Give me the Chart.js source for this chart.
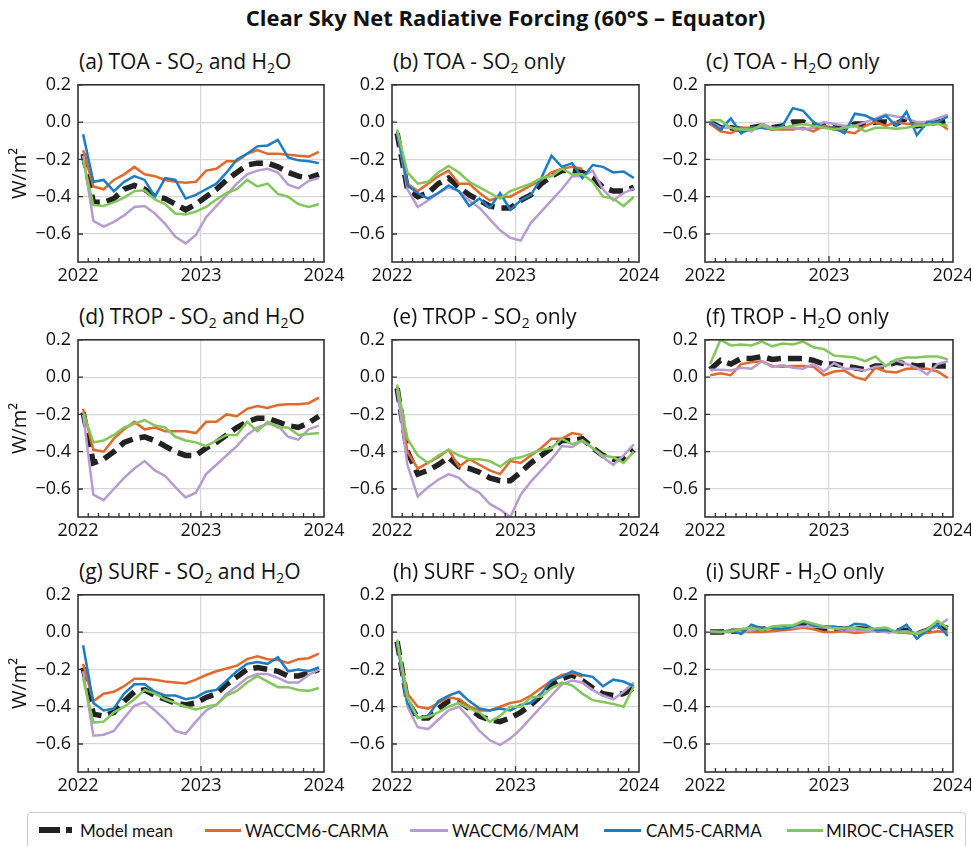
<!DOCTYPE html>
<html>
<head>
<meta charset="utf-8">
<script src="https://cdn.jsdelivr.net/npm/chart.js@4.4.1/dist/chart.umd.min.js"></script>
<style>
  body { margin: 0; width: 971px; height: 846px; background: #fff; position: relative; overflow: hidden; font-family: "Open Sans", Lato, sans-serif; color: #111; }
  #title { position: absolute; left: 20px; top: 2px; width: 971px; text-align: center; font-weight: bold; font-size: 22px; }
  .ptitle { position: absolute; font-size: 21px; white-space: nowrap; line-height: 21px; }
  .ptitle sub { font-size: 14px; vertical-align: -4px; line-height: 0; }
  canvas { position: absolute; }
  #legend { position: absolute; left: 27px; top: 812px; width: 937px; height: 36px; border: 1px solid #ccc; border-radius: 4px; font-family: Lato, sans-serif; font-size: 17px; }
  .lg { position: absolute; top: 7px; white-space: nowrap; }
  .sw { position: absolute; top: 16px; height: 3px; }
</style>
</head>
<body>
<div id="title">Clear Sky Net Radiative Forcing (60°S – Equator)</div>
<div id="legend">
  <div class="sw" style="left:11px;width:21px;height:6px;top:14px;background:#222"></div>
  <div class="sw" style="left:38px;width:6px;height:6px;top:14px;background:#222"></div>
  <div class="lg" style="left:52px">Model mean</div>
  <div class="sw" style="left:177px;width:36px;background:#E2692A"></div>
  <div class="lg" style="left:217px">WACCM6-CARMA</div>
  <div class="sw" style="left:382px;width:38px;background:#B89BD0"></div>
  <div class="lg" style="left:424px">WACCM6/MAM</div>
  <div class="sw" style="left:576px;width:37px;background:#1C7DC1"></div>
  <div class="lg" style="left:618px">CAM5-CARMA</div>
  <div class="sw" style="left:759px;width:36px;background:#82C75A"></div>
  <div class="lg" style="left:798px">MIROC-CHASER</div>
</div>
<script>
// monthly means, mid-month positions (months since Jan 2022)
const monthX = [0.5, 1.5, 2.5, 3.5, 4.5, 5.5, 6.5, 7.5, 8.5, 9.5, 10.5, 11.5,
                12.5, 13.5, 14.5, 15.5, 16.5, 17.5, 18.5, 19.5, 20.5, 21.5, 22.5, 23.5];
const xTickPos = [0, 12, 24];
const xTickLabels = ['2022', '2023', '2024'];
const yTicks = [-0.6, -0.4, -0.2, 0.0, 0.2];

const models = ['Model mean', 'WACCM6-CARMA', 'WACCM6/MAM', 'CAM5-CARMA', 'MIROC-CHASER'];
const colors = ['#222222', '#E2692A', '#B89BD0', '#1C7DC1', '#82C75A'];

const panelTitles = [
  '(a) TOA - SO<sub>2</sub> and H<sub>2</sub>O', '(b) TOA - SO<sub>2</sub> only', '(c) TOA - H<sub>2</sub>O only',
  '(d) TROP - SO<sub>2</sub> and H<sub>2</sub>O', '(e) TROP - SO<sub>2</sub> only', '(f) TROP - H<sub>2</sub>O only',
  '(g) SURF - SO<sub>2</sub> and H<sub>2</sub>O', '(h) SURF - SO<sub>2</sub> only', '(i) SURF - H<sub>2</sub>O only'
];

// (a) TOA - SO2 and H2O
const aMean  = [-0.17,-0.43,-0.43,-0.41,-0.36,-0.34,-0.36,-0.40,-0.41,-0.44,-0.47,-0.44,-0.40,-0.36,-0.31,-0.27,-0.23,-0.22,-0.22,-0.24,-0.27,-0.29,-0.30,-0.28];
const aCarma = [-0.15,-0.345,-0.36,-0.31,-0.28,-0.24,-0.28,-0.29,-0.31,-0.32,-0.325,-0.32,-0.26,-0.25,-0.21,-0.21,-0.17,-0.15,-0.17,-0.17,-0.175,-0.18,-0.185,-0.16];
const aMam   = [-0.18,-0.53,-0.56,-0.535,-0.50,-0.455,-0.45,-0.49,-0.545,-0.615,-0.65,-0.605,-0.51,-0.45,-0.39,-0.33,-0.28,-0.26,-0.25,-0.27,-0.335,-0.355,-0.315,-0.30];
const aCam5  = [-0.065,-0.32,-0.31,-0.37,-0.32,-0.29,-0.31,-0.40,-0.30,-0.31,-0.41,-0.39,-0.36,-0.33,-0.27,-0.20,-0.17,-0.13,-0.125,-0.095,-0.19,-0.205,-0.21,-0.22];
const aMiroc = [-0.205,-0.445,-0.45,-0.43,-0.405,-0.37,-0.365,-0.415,-0.44,-0.49,-0.495,-0.48,-0.455,-0.415,-0.38,-0.36,-0.31,-0.345,-0.33,-0.385,-0.40,-0.44,-0.455,-0.44];

// (b) TOA - SO2 only
const bMean  = [-0.06,-0.36,-0.40,-0.38,-0.33,-0.30,-0.35,-0.39,-0.42,-0.45,-0.46,-0.46,-0.42,-0.39,-0.33,-0.29,-0.26,-0.26,-0.27,-0.30,-0.35,-0.37,-0.37,-0.35];
const bCarma = [-0.05,-0.33,-0.37,-0.33,-0.29,-0.26,-0.33,-0.33,-0.38,-0.42,-0.40,-0.40,-0.37,-0.34,-0.31,-0.27,-0.25,-0.24,-0.25,null,null,null,null,null];
const bMam   = [-0.05,-0.36,-0.455,-0.42,-0.38,-0.35,-0.37,-0.42,-0.46,-0.52,-0.58,-0.62,-0.635,-0.54,-0.48,-0.42,-0.36,-0.29,-0.29,-0.26,-0.36,-0.42,-0.38,-0.355];
const bCam5  = [-0.05,-0.34,-0.38,-0.41,-0.38,-0.34,-0.37,-0.45,-0.41,-0.46,-0.38,-0.47,-0.42,-0.39,-0.30,-0.18,-0.24,-0.22,-0.30,-0.23,-0.24,-0.27,-0.265,-0.30];
const bMiroc = [-0.04,-0.27,-0.33,-0.32,-0.27,-0.235,-0.27,-0.32,-0.35,-0.38,-0.41,-0.37,-0.35,-0.33,-0.30,-0.29,-0.25,-0.28,-0.28,-0.32,-0.40,-0.41,-0.45,-0.40];

// (c) TOA - H2O only
const cMean  = [0.0,-0.03,-0.03,-0.04,-0.03,-0.02,-0.03,-0.02,0.0,0.0,-0.02,-0.02,-0.03,-0.04,-0.01,-0.01,0.0,0.0,-0.01,0.02,-0.02,-0.01,0.0,0.01];
const cCarma = [-0.01,-0.05,-0.06,-0.03,-0.03,-0.03,-0.04,-0.04,-0.04,-0.03,-0.05,-0.02,-0.03,-0.05,-0.06,-0.02,0.0,-0.02,0.0,-0.01,-0.01,0.0,0.0,-0.04];
const cMam   = [0.0,-0.03,-0.03,-0.04,-0.05,-0.01,-0.03,-0.03,-0.03,-0.04,-0.03,0.0,-0.01,-0.02,-0.02,0.0,0.02,0.04,0.03,0.02,0.0,0.0,0.02,0.04];
const cCam5  = [0.0,-0.04,0.02,-0.06,-0.03,-0.03,-0.04,-0.02,0.075,0.06,0.0,-0.03,-0.03,-0.06,0.045,0.035,0.01,0.035,-0.02,0.055,-0.07,0.0,0.0,0.03];
const cMiroc = [0.01,0.01,-0.03,-0.04,-0.04,-0.02,-0.04,-0.03,-0.02,-0.01,-0.02,-0.03,-0.04,-0.03,-0.02,-0.05,-0.03,-0.03,-0.035,-0.03,-0.02,-0.015,-0.01,-0.02];

// (d) TROP - SO2 and H2O
const dMean  = [-0.19,-0.46,-0.44,-0.40,-0.35,-0.33,-0.32,-0.34,-0.37,-0.40,-0.42,-0.42,-0.38,-0.35,-0.31,-0.27,-0.24,-0.22,-0.22,-0.24,-0.26,-0.27,-0.245,-0.21];
const dCarma = [-0.17,-0.39,-0.40,-0.33,-0.28,-0.24,-0.28,-0.27,-0.29,-0.29,-0.29,-0.30,-0.24,-0.24,-0.20,-0.21,-0.17,-0.155,-0.165,-0.15,-0.145,-0.145,-0.14,-0.11];
const dMam   = [-0.20,-0.63,-0.66,-0.60,-0.54,-0.49,-0.45,-0.50,-0.53,-0.59,-0.645,-0.62,-0.52,-0.47,-0.42,-0.37,-0.31,-0.27,-0.25,-0.26,-0.32,-0.335,-0.28,-0.26];
const dMiroc = [-0.19,-0.35,-0.34,-0.31,-0.27,-0.25,-0.23,-0.26,-0.27,-0.32,-0.34,-0.35,-0.37,-0.34,-0.31,-0.31,-0.24,-0.29,-0.24,-0.27,-0.27,-0.31,-0.305,-0.30];

// (e) TROP - SO2 only
const eMean  = [-0.06,-0.40,-0.52,-0.50,-0.47,-0.43,-0.48,-0.49,-0.51,-0.54,-0.555,-0.555,-0.51,-0.46,-0.42,-0.38,-0.34,-0.34,-0.33,-0.38,-0.42,-0.44,-0.44,-0.39];
const eCarma = [-0.05,-0.40,-0.49,-0.46,-0.43,-0.39,-0.48,-0.44,-0.47,-0.50,-0.52,-0.45,-0.46,-0.42,-0.38,-0.33,-0.33,-0.30,-0.31,null,null,null,null,null];
const eMam   = [-0.07,-0.47,-0.64,-0.59,-0.55,-0.52,-0.54,-0.59,-0.62,-0.68,-0.71,-0.75,-0.63,-0.56,-0.50,-0.44,-0.37,-0.375,-0.34,-0.38,-0.43,-0.47,-0.42,-0.36];
const eMiroc = [-0.04,-0.33,-0.42,-0.46,-0.42,-0.39,-0.42,-0.44,-0.44,-0.45,-0.48,-0.44,-0.43,-0.41,-0.39,-0.38,-0.33,-0.36,-0.34,-0.38,-0.42,-0.43,-0.46,-0.40];

// (f) TROP - H2O only
const fMean  = [0.04,0.09,0.07,0.10,0.10,0.11,0.095,0.10,0.10,0.10,0.09,0.07,0.07,0.06,0.05,0.04,0.06,0.06,0.08,0.07,0.06,0.065,0.06,0.06];
const fCarma = [0.01,0.02,0.01,0.07,0.08,0.085,0.06,0.055,0.06,0.06,0.055,0.01,0.03,0.035,0.0,-0.015,0.05,0.03,0.025,0.045,0.045,0.045,0.03,-0.005];
const fMam   = [0.04,0.04,0.035,0.05,0.045,0.085,0.055,0.065,0.05,0.045,0.07,0.03,0.075,0.045,0.045,0.035,0.055,0.06,0.09,0.07,0.05,0.015,0.07,0.085];
const fMiroc = [0.07,0.20,0.17,0.175,0.17,0.19,0.165,0.18,0.175,0.19,0.16,0.15,0.115,0.11,0.105,0.085,0.11,0.06,0.095,0.105,0.105,0.11,0.11,0.095];

// (g) SURF - SO2 and H2O
const gMean  = [-0.19,-0.44,-0.45,-0.43,-0.37,-0.32,-0.31,-0.34,-0.36,-0.38,-0.39,-0.38,-0.35,-0.33,-0.28,-0.24,-0.20,-0.19,-0.20,-0.21,-0.235,-0.235,-0.22,-0.20];
const gCarma = [-0.17,-0.37,-0.33,-0.32,-0.29,-0.25,-0.25,-0.255,-0.265,-0.27,-0.275,-0.255,-0.23,-0.21,-0.195,-0.18,-0.145,-0.13,-0.145,-0.15,-0.165,-0.145,-0.14,-0.115];
const gMam   = [-0.21,-0.555,-0.55,-0.53,-0.46,-0.395,-0.375,-0.42,-0.47,-0.53,-0.545,-0.48,-0.42,-0.39,-0.33,-0.29,-0.245,-0.225,-0.225,-0.245,-0.27,-0.27,-0.23,-0.20];
const gCam5  = [-0.07,-0.38,-0.42,-0.41,-0.33,-0.28,-0.28,-0.32,-0.34,-0.34,-0.36,-0.35,-0.32,-0.31,-0.26,-0.21,-0.17,-0.16,-0.17,-0.135,-0.21,-0.20,-0.21,-0.19];
const gMiroc = [-0.25,-0.485,-0.48,-0.43,-0.40,-0.36,-0.31,-0.33,-0.36,-0.38,-0.40,-0.415,-0.40,-0.39,-0.34,-0.315,-0.27,-0.235,-0.265,-0.295,-0.295,-0.31,-0.315,-0.30];

// (h) SURF - SO2 only
const hMean  = [-0.05,-0.37,-0.46,-0.46,-0.41,-0.37,-0.37,-0.41,-0.45,-0.47,-0.48,-0.46,-0.43,-0.39,-0.34,-0.28,-0.25,-0.23,-0.26,-0.30,-0.33,-0.34,-0.33,-0.30];
const hCarma = [-0.05,-0.33,-0.40,-0.41,-0.38,-0.35,-0.36,-0.40,-0.42,-0.42,-0.40,-0.38,-0.37,-0.34,-0.30,-0.26,-0.23,-0.22,-0.24,null,null,null,null,null];
const hMam   = [-0.06,-0.40,-0.51,-0.52,-0.47,-0.42,-0.40,-0.46,-0.53,-0.58,-0.605,-0.57,-0.52,-0.46,-0.40,-0.34,-0.28,-0.26,-0.27,-0.31,-0.34,-0.36,-0.32,-0.27];
const hCam5  = [-0.05,-0.38,-0.46,-0.45,-0.37,-0.34,-0.32,-0.37,-0.41,-0.42,-0.41,-0.42,-0.39,-0.38,-0.33,-0.26,-0.24,-0.21,-0.23,-0.24,-0.29,-0.255,-0.265,-0.29];
const hMiroc = [-0.04,-0.35,-0.46,-0.455,-0.43,-0.40,-0.38,-0.41,-0.43,-0.48,-0.45,-0.40,-0.40,-0.35,-0.345,-0.30,-0.27,-0.285,-0.33,-0.365,-0.375,-0.385,-0.40,-0.29];

// (i) SURF - H2O only
const iMean  = [0.0,0.0,0.005,0.005,0.02,0.015,0.02,0.02,0.025,0.045,0.03,0.02,0.02,0.015,0.02,0.015,0.01,0.01,0.005,0.01,-0.01,0.01,0.035,0.02];
const iCarma = [0.0,0.0,0.0,0.0,0.0,0.0,0.005,0.01,0.015,0.025,0.015,0.0,0.0,0.005,-0.005,0.0,0.01,0.005,0.0,-0.005,-0.01,-0.005,0.005,0.0];
const iMam   = [0.0,0.0,0.01,0.0,0.01,0.02,0.02,0.02,0.025,0.03,0.03,0.025,0.02,0.01,0.01,0.005,0.005,0.0,0.0,0.005,-0.005,0.01,0.03,0.07];
const iCam5  = [0.0,0.0,0.01,-0.01,0.04,0.02,0.02,0.015,0.03,0.055,0.035,0.03,0.03,0.015,0.045,0.04,0.01,0.01,0.005,0.04,-0.035,0.01,0.04,-0.02];
const iMiroc = [0.005,0.0,0.005,0.015,0.025,0.01,0.03,0.035,0.035,0.06,0.045,0.03,0.02,0.02,0.025,0.015,0.02,0.025,0.0,0.0,-0.01,0.015,0.06,0.02];

// series per panel, order: mean, WACCM6-CARMA, WACCM6/MAM, CAM5-CARMA, MIROC-CHASER
const panelSeries = [
  [aMean, aCarma, aMam, aCam5, aMiroc],
  [bMean, bCarma, bMam, bCam5, bMiroc],
  [cMean, cCarma, cMam, cCam5, cMiroc],
  [dMean, dCarma, dMam, null, dMiroc],
  [eMean, eCarma, eMam, null, eMiroc],
  [fMean, fCarma, fMam, null, fMiroc],
  [gMean, gCarma, gMam, gCam5, gMiroc],
  [hMean, hCarma, hMam, hCam5, hMiroc],
  [iMean, iCarma, iMam, iCam5, iMiroc]
];

// plot area boxes in page pixels
const cols = [{ l: 78, r: 324 }, { l: 392, r: 639 }, { l: 705, r: 953 }];
const rows = [{ t: 81, b: 262 }, { t: 336, b: 517 }, { t: 591, b: 772 }];

const fmt = v => (v < 0 ? '\u2212' : '') + Math.abs(v).toFixed(1);

// frame + inward ticks like the original
const framePlugin = {
  id: 'frame',
  afterDatasetsDraw(chart) {
    const { ctx, chartArea: a, scales } = chart;
    ctx.save();
    ctx.strokeStyle = '#333';
    ctx.lineWidth = 1.3;
    ctx.beginPath();
    for (let m = 1; m < 24; m++) {
      const x = scales.x.getPixelForValue(m);
      const len = m === 12 ? 6 : 4;
      ctx.moveTo(x, a.bottom);
      ctx.lineTo(x, a.bottom - len);
    }
    yTicks.forEach(v => {
      const y = scales.y.getPixelForValue(v);
      ctx.moveTo(a.left, y);
      ctx.lineTo(a.left + 5, y);
    });
    ctx.stroke();
    ctx.lineWidth = 1.6;
    ctx.strokeRect(a.left, a.top, a.right - a.left, a.bottom - a.top);
    ctx.restore();
  }
};

panelSeries.forEach((series, p) => {
  const col = cols[p % 3], row = rows[Math.floor(p / 3)];
  const axisW = p % 3 === 0 ? 78 : 60;
  const padT = 14, padR = 26, axisH = 32;
  const w = axisW + (col.r - col.l) + padR;
  const h = padT + (row.b - row.t) + axisH;

  const t = document.createElement('div');
  t.className = 'ptitle';
  t.style.left = (col.l + 1) + 'px';
  t.style.top = (row.t - 30) + 'px';
  t.innerHTML = panelTitles[p];
  document.body.appendChild(t);

  const cv = document.createElement('canvas');
  cv.width = w; cv.height = h;
  cv.style.left = (col.l - axisW) + 'px';
  cv.style.top = (row.t - padT) + 'px';
  document.body.appendChild(cv);

  const datasets = [];
  series.forEach((vals, k) => {
    if (!vals) return;
    datasets.push({
      label: models[k],
      data: monthX.map((x, i) => ({ x: x, y: vals[i] })),
      borderColor: colors[k],
      borderWidth: k === 0 ? 5.5 : 2.5,
      borderDash: k === 0 ? [14, 7] : [],
      pointRadius: 0,
      tension: 0,
      spanGaps: false,
      clip: 0,
      order: 5 - k
    });
  });

  new Chart(cv, {
    type: 'line',
    data: { datasets },
    plugins: [framePlugin],
    options: {
      responsive: false,
      animation: false,
      devicePixelRatio: 1,
      layout: { padding: { top: padT, right: padR, left: 0, bottom: 0 } },
      plugins: { legend: { display: false }, tooltip: { enabled: false } },
      scales: {
        x: {
          type: 'linear', min: 0, max: 24,
          afterBuildTicks: s => { s.ticks = xTickPos.map(v => ({ value: v })); },
          afterFit: s => { s.height = axisH; },
          ticks: {
            callback: (v, i) => xTickLabels[i],
            font: { family: 'Open Sans', size: 18 }, color: '#111', padding: 3, maxRotation: 0
          },
          grid: { color: c => (c.tick && c.tick.value === 12 ? '#d6d6d6' : 'rgba(0,0,0,0)'), lineWidth: 1.2, drawTicks: false },
          border: { display: false }
        },
        y: {
          min: -0.75, max: 0.2,
          afterBuildTicks: s => { s.ticks = yTicks.map(v => ({ value: v })); },
          afterFit: s => { s.width = axisW; },
          ticks: {
            callback: v => fmt(v),
            font: { family: 'Open Sans', size: 18 }, color: '#111', padding: 7
          },
          grid: { color: '#d6d6d6', lineWidth: 1.2, drawTicks: false },
          border: { display: false },
          title: {
            display: p % 3 === 0, text: 'W/m\u00B2',
            font: { family: 'Open Sans', size: 20 }, color: '#111', padding: { top: 8, bottom: 0 }
          }
        }
      }
    }
  });
});
</script>
</body>
</html>
